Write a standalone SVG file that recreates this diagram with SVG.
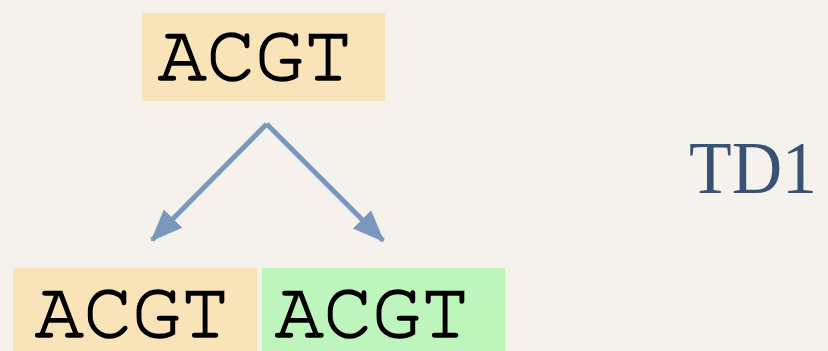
<svg xmlns="http://www.w3.org/2000/svg" width="828" height="351" viewBox="0 0 828 351">
  <style>
    .seq { font-family: "Nimbus Mono PS", "FreeMono", "Courier", "Liberation Mono", monospace; font-size: 81px; fill: #000; stroke: #000; stroke-width: 1.6; }
    .orange { fill: #f9e3b9; }
    .green { fill: #bdf5bc; }
    .edge { stroke: #7a98bb; stroke-width: 5; fill: none; }
    .label { font-family: "Liberation Serif", "Times New Roman", serif; font-size: 74px; fill: #3a5272; }
  </style>
  <defs>
    <marker id="head" markerUnits="userSpaceOnUse" markerWidth="32" markerHeight="32" viewBox="0 0 32 32" refX="30" refY="16" orient="auto">
      <path d="M0,3 L32,16 L0,29 Z" fill="#7a98bb"/>
    </marker>
  </defs>
  <rect width="828" height="351" fill="#f5f2ed"/>

  <g id="root">
    <rect class="orange" x="142" y="13" width="243" height="88"/>
    <text class="seq" x="158" y="80">ACGT</text>
  </g>

  <g id="left">
    <rect class="orange" x="13" y="268" width="244" height="83"/>
    <text class="seq" x="35" y="337">ACGT</text>
  </g>

  <g id="right">
    <rect class="green" x="262" y="268" width="243" height="83"/>
    <text class="seq" x="275" y="337">ACGT</text>
  </g>

  <g id="connectors">
    <path class="edge" d="M266.7,124 L152,240" marker-end="url(#head)"/>
    <path class="edge" d="M266.7,124 L383,240.5" marker-end="url(#head)"/>
  </g>

  <g id="caption">
    <text class="label" x="689" y="193" textLength="128" lengthAdjust="spacingAndGlyphs">TD1</text>
  </g>
</svg>
